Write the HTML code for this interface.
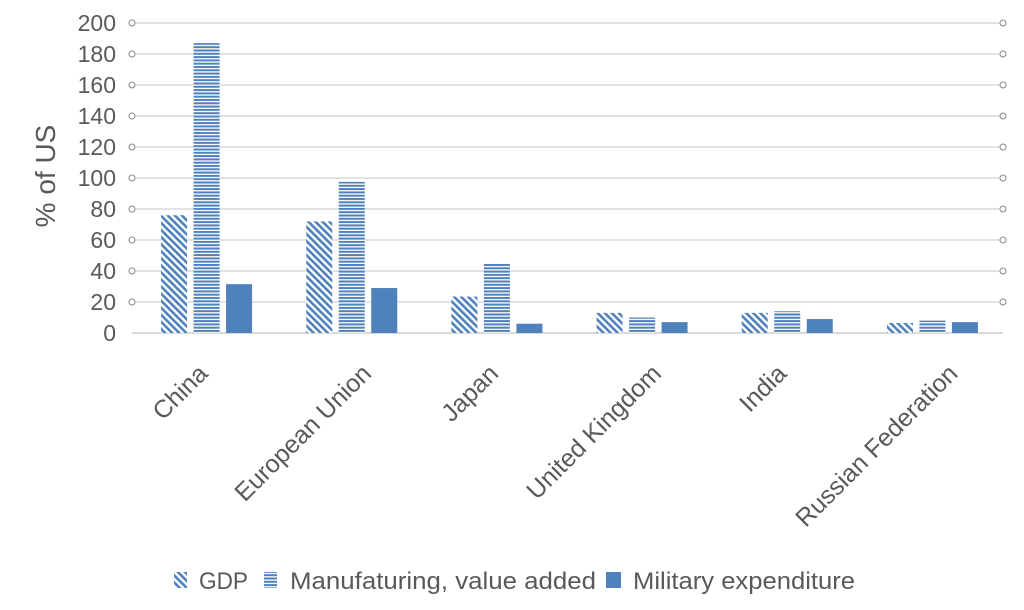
<!DOCTYPE html>
<html><head><meta charset="utf-8"><style>
body{margin:0;background:#fff;}
svg{display:block;font-family:"Liberation Sans",sans-serif;}
</style></head><body>
<svg id="chart" width="1024" height="610" viewBox="0 0 1024 610">
<defs>
<pattern id="diag" patternUnits="userSpaceOnUse" width="5" height="5" patternTransform="rotate(-45)">
<rect width="5" height="5" fill="#fff"/><rect width="2.6" height="5" fill="#4f81bd"/>
</pattern>
<pattern id="horiz" patternUnits="userSpaceOnUse" width="6" height="3.3">
<rect width="6" height="3.3" fill="#fff"/><rect width="6" height="2" fill="#4f81bd"/>
</pattern>
</defs>
<g id="grid"></g>
<g id="bars"></g>
<g id="labels"></g>
<text transform="translate(55,176) rotate(-90)" text-anchor="middle" font-size="28" fill="#595959">% of US</text>
<g>
<rect x="174" y="572" width="13" height="16" fill="url(#diag)"/>
<text x="199" y="589" font-size="24" textLength="49" lengthAdjust="spacingAndGlyphs" fill="#595959">GDP</text>
<rect x="264" y="572" width="13" height="16" fill="url(#horiz)"/>
<text x="290" y="589" font-size="24" textLength="306" lengthAdjust="spacingAndGlyphs" fill="#595959">Manufaturing, value added</text>
<rect x="606" y="572" width="15" height="16" fill="#4f81bd"/>
<text x="633" y="589" font-size="24" textLength="222" lengthAdjust="spacingAndGlyphs" fill="#595959">Military expenditure</text>
</g>
</svg>
<script>
const categories = ["China","European Union","Japan","United Kingdom","India","Russian Federation"];
const gdp = [76, 72, 23.5, 13, 13, 6.5];
const manufacturing = [187, 97.5, 45, 10, 14, 8];
const military = [31.5, 29, 6, 7, 9, 7];
const yTicks = [0,20,40,60,80,100,120,140,160,180,200];

const NS="http://www.w3.org/2000/svg";
const x0=132, x1=1003, y0=333, yTop=23;
const yScale=v=>y0-(v/200)*(y0-yTop);
const band=(x1-x0)/categories.length;
const xCenter=i=>x0+band*(i+0.5)+2;
function mk(tag,attrs,parent){const e=document.createElementNS(NS,tag);for(const k in attrs)e.setAttribute(k,attrs[k]);parent.appendChild(e);return e;}
const grid=document.getElementById('grid'), bars=document.getElementById('bars'), labels=document.getElementById('labels');
yTicks.forEach(t=>{
  const y=yScale(t);
  const l=mk('line',{x1:x0,x2:x1,y1:y,y2:y,stroke:'#d9d9d9','stroke-width':t===0?2:1.6},grid);
  
  
  if(t>0){
    [x0,x1].forEach(cx=>{
      const c=mk('circle',{cx:cx,cy:y,r:3,fill:'#fff',stroke:'#888','stroke-width':1},grid);
      
      
    });
  }
  const tx=mk('text',{x:116,y:y+8,'text-anchor':'end','font-size':23,fill:'#595959'},labels);
  tx.textContent=t;
  
  
});
const bw=26, gap=6.5;
const series=[[gdp,'url(#diag)','gdp'],[manufacturing,'url(#horiz)','manufacturing'],[military,'#4f81bd','military']];
categories.forEach((c,i)=>{
  const cx=xCenter(i);
  series.forEach((s,j)=>{
    const x=cx+(j-1)*(bw+gap)-bw/2;
    const y=yScale(s[0][i]);
    const r=mk('rect',{x:x,y:y,width:bw,height:y0-y,fill:s[1]},bars);
    
    
  });
  const tx=mk('text',{'text-anchor':'end','font-size':25,fill:'#595959'},labels);
  tx.textContent=c;
  
  
  const w=tx.getComputedTextLength();
  tx.setAttribute('transform',`translate(${cx+0.16*w-8},${y0+42}) rotate(-45)`);
});
</script>
</body></html>
